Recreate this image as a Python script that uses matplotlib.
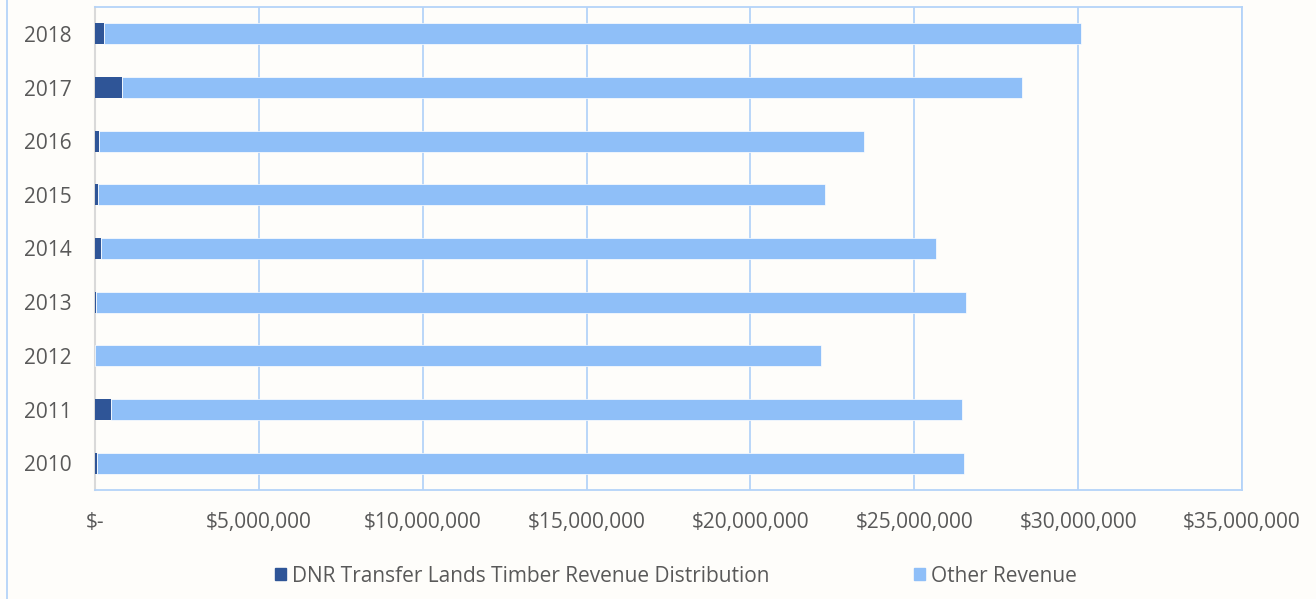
import matplotlib
matplotlib.use("Agg")
import matplotlib.pyplot as plt
from matplotlib.lines import Line2D

years = ["2010", "2011", "2012", "2013", "2014", "2015", "2016", "2017", "2018"]
dnr = [50000, 490000, 0, 30000, 190000, 100000, 130000, 830000, 280000]
total = [26510000, 26450000, 22150000, 26570000, 25650000, 22280000, 23470000, 28290000, 30090000]
other = [t - d for t, d in zip(total, dnr)]
xticks = [0, 5000000, 10000000, 15000000, 20000000, 25000000, 30000000, 35000000]
xticklabels = ["$-", "$5,000,000", "$10,000,000", "$15,000,000", "$20,000,000",
               "$25,000,000", "$30,000,000", "$35,000,000"]
legend_labels = ["DNR Transfer Lands Timber Revenue Distribution", "Other Revenue"]

dark = "#2F5597"
light = "#8FBFF8"
grid = "#B4D3F8"
txt = "#595959"
bg = "#FEFDFA"

plt.rcParams['font.family'] = ['Open Sans', 'DejaVu Sans']
FS = 15

W, H = 1316, 599
fig = plt.figure(figsize=(W / 100, H / 100), dpi=100, facecolor=bg)
ax = fig.add_axes([95 / W, 1 - 490 / H, (1242 - 95) / W, (490 - 7) / H])
ax.set_facecolor(bg)

y = list(range(len(years)))
ax.barh(y, other, left=dnr, height=0.39, color=light, edgecolor="white", linewidth=0.5, zorder=3)
ax.barh(y, dnr, height=0.39, color=dark, linewidth=0, zorder=4)

ax.set_xlim(0, 35000000)
ax.set_ylim(-0.5, len(years) - 0.5)
ax.set_xticks(xticks)
ax.set_xticklabels(xticklabels, fontsize=FS, color=txt)
ax.set_yticks(y)
ax.set_yticklabels(years, fontsize=FS, color=txt)
ax.tick_params(axis='both', length=0)
ax.tick_params(axis='x', pad=16)
ax.tick_params(axis='y', pad=16.5)

ax.xaxis.grid(True, color=grid, linewidth=1.3, zorder=0)
ax.set_axisbelow(True)
for s in ["top", "right", "bottom"]:
    ax.spines[s].set_color(grid)
    ax.spines[s].set_linewidth(1.3)
ax.spines["left"].set_color("#D9D9D9")
ax.spines["left"].set_linewidth(1.5)
ax.spines["left"].set_zorder(2)

# outer chart border at left
fig.add_artist(Line2D([6.5 / W, 6.5 / W], [0, 1], transform=fig.transFigure,
                      color=grid, linewidth=1.3))

handles = [plt.Rectangle((0, 0), 1, 1, color=dark), plt.Rectangle((0, 0), 1, 1, color=light)]
fig.legend(handles, legend_labels, loc="center", bbox_to_anchor=(676 / W, 1 - 576 / H),
           ncol=2, frameon=False, fontsize=FS, labelcolor=txt,
           handlelength=0.55, handleheight=0.55, handletextpad=0.3, columnspacing=6.9)

fig.savefig("out.png", dpi=100, facecolor=bg)
